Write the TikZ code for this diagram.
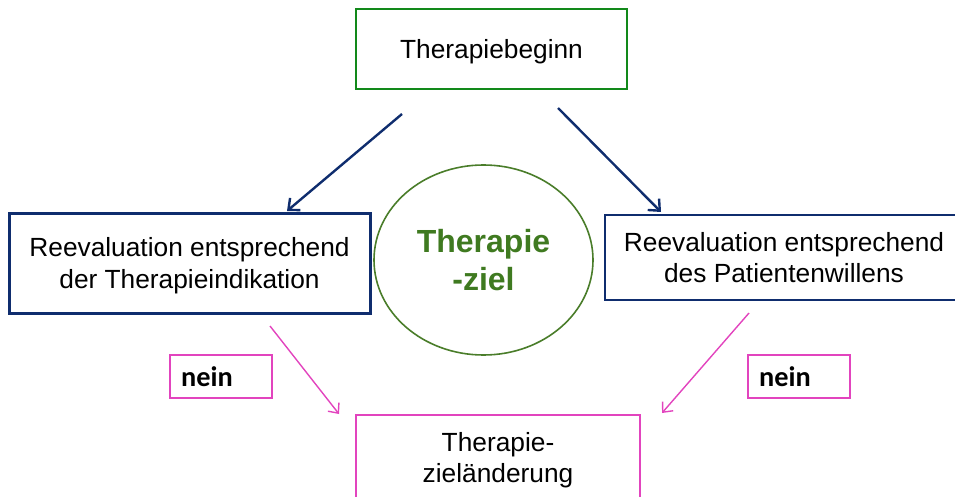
\documentclass[tikz,border=0pt]{standalone}
\usepackage{fontspec}
\setmainfont{Liberation Sans}
\newfontfamily\neinfont{Carlito}
\usetikzlibrary{arrows.meta,shapes.geometric}
\definecolor{navy}{HTML}{0F2D6E}
\definecolor{topgreen}{HTML}{12891A}
\definecolor{ellgreen}{HTML}{4A7D2A}
\definecolor{txtgreen}{HTML}{3F7A20}
\definecolor{pinkc}{HTML}{E244BE}
\tikzset{
  base/.style={font=\fontsize{26.3}{31.5}\selectfont, align=center, inner sep=0pt, text=black},
  topbox/.style={base, draw=topgreen, line width=2.2pt, minimum width=271pt, minimum height=80pt},
  bluebox/.style={base, draw=navy, minimum height=100pt},
  pinkbox/.style={base, draw=pinkc, line width=2pt},
  neinbox/.style={draw=pinkc, line width=2pt, minimum width=102pt, minimum height=43pt, inner sep=0pt},
  neintxt/.style={font=\neinfont\bfseries\fontsize{28.3}{33}\selectfont, anchor=base west, inner sep=0pt},
  zielell/.style={ellipse, draw=ellgreen, line width=1.6pt, minimum width=219pt, minimum height=190pt, inner sep=0pt,
    font=\bfseries\fontsize{32}{37.5}\selectfont, text=txtgreen, align=center},
  navyarrow/.style={draw=navy, line width=2.4pt, -{Straight Barb[length=9pt,width=16pt,line width=2.4pt]}},
  pinkarrow/.style={draw=pinkc, line width=1.4pt, -{Straight Barb[length=8pt,width=14pt,line width=1.4pt]}},
}
\begin{document}
\begin{tikzpicture}[x=1pt,y=-1pt]
\useasboundingbox (0,0) rectangle (955,497);
\node[topbox, text depth=-2.8pt] (top) at (491.5,49) {Therapiebeginn};
\node[bluebox, line width=3pt, minimum width=361pt, minimum height=100pt, text depth=0pt] (lbox) at (189.5,263) {Reevaluation entsprechend\\der Therapieindikation};
\node[bluebox, line width=2.2pt, minimum width=358pt, minimum height=85pt, text depth=-2pt] (rbox) at (784,257.5) {Reevaluation entsprechend\\des Patientenwillens};
\node[zielell, text depth=-2pt] (ziel) at (483.5,260) {Therapie\\-ziel};
\node[pinkbox, minimum width=284pt, minimum height=88pt, text depth=3pt] (bot) at (498,459) {Therapie-\\zieländerung};
\node[neinbox] (nl) at (221,376.5) {};
\node[neintxt] (nlt) at (181,386) {nein};
\node[neinbox] (nr) at (799,376.5) {};
\node[neintxt] (nrt) at (759,386) {nein};
\coordinate (a1s) at (402,114);
\coordinate (a1e) at (287,211);
\coordinate (a2s) at (558,108);
\coordinate (a2e) at (661,212);
\coordinate (p1s) at (270,326);
\coordinate (p1e) at (339,414);
\coordinate (p2s) at (749,313);
\coordinate (p2e) at (662,413);
\draw[navyarrow] (a1s) -- (a1e);
\draw[navyarrow] (a2s) -- (a2e);
\draw[pinkarrow] (p1s) -- (p1e);
\draw[pinkarrow] (p2s) -- (p2e);
\end{tikzpicture}
\end{document}
